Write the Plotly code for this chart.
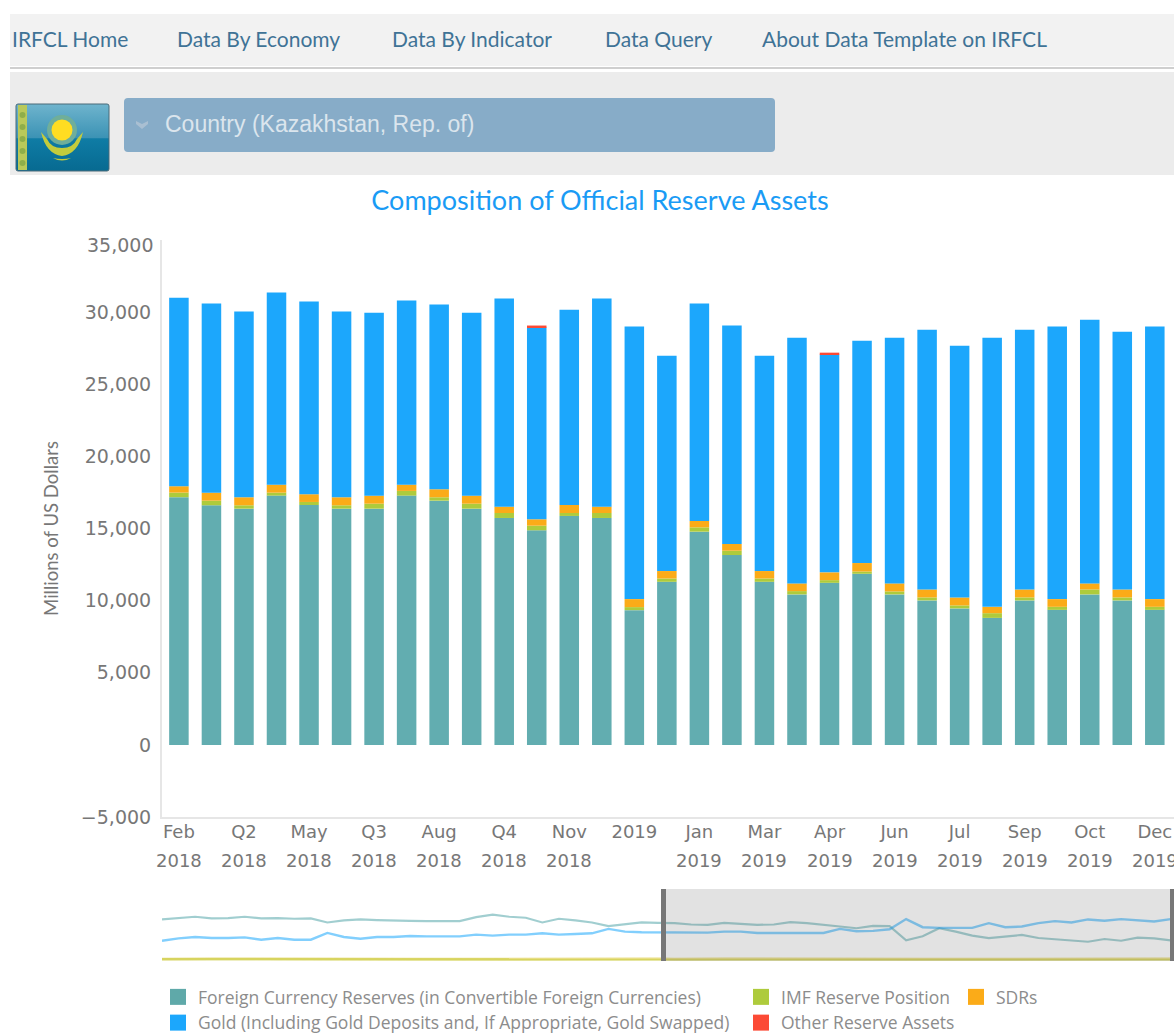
import base64
import plotly.graph_objects as go

W, H = 1174, 1035

periods = ["Feb 2018", "Mar 2018", "Q2 2018", "Apr 2018", "May 2018", "Jun 2018", "Q3 2018", "Jul 2018",
           "Aug 2018", "Sep 2018", "Q4 2018", "Oct 2018", "Nov 2018", "Dec 2018", "2019", "Q1 2019",
           "Jan 2019", "Feb 2019", "Mar 2019", "Q2 2019", "Apr 2019", "May 2019", "Jun 2019", "Q3 2019",
           "Jul 2019", "Aug 2019", "Sep 2019", "Q4 2019", "Oct 2019", "Nov 2019", "Dec 2019"]
tick_periods = ["Feb 2018", "Q2 2018", "May 2018", "Q3 2018", "Aug 2018", "Q4 2018", "Nov 2018", "2019",
                "Jan 2019", "Mar 2019", "Apr 2019", "Jun 2019", "Jul 2019", "Sep 2019", "Oct 2019", "Dec 2019"]
tick_row1 = ["Feb", "Q2", "May", "Q3", "Aug", "Q4", "Nov", "2019",
             "Jan", "Mar", "Apr", "Jun", "Jul", "Sep", "Oct", "Dec"]
tick_row2 = ["2018", "2018", "2018", "2018", "2018", "2018", "2018", "",
             "2019", "2019", "2019", "2019", "2019", "2019", "2019", "2019"]

foreign = [17170, 16610, 16375, 17280, 16630, 16375, 16375, 17280, 16930, 16375, 15730, 14875, 15870, 15730, 9340, 11305,
           14780, 13160, 11305, 10430, 11235, 11860, 10430, 10015, 9460, 8805, 10015, 9360, 10430, 10015, 9360]
imf = [320, 320, 235, 205, 210, 235, 345, 325, 235, 345, 345, 320, 205, 345, 210, 230,
       300, 300, 230, 230, 185, 160, 210, 210, 210, 325, 210, 210, 345, 210, 210]
sdr = [440, 555, 555, 555, 535, 555, 555, 435, 555, 555, 440, 445, 555, 440, 555, 515,
       440, 465, 515, 535, 540, 585, 555, 550, 550, 440, 550, 535, 420, 550, 535]
gold = [13075, 13105, 12870, 13315, 13355, 12870, 12690, 12760, 12800, 12690, 14425, 13300, 13540, 14425, 18890, 14930,
        15070, 15140, 14930, 17035, 15100, 15415, 17035, 18005, 17450, 18660, 18005, 18890, 18285, 17870, 18890]
other = [0, 0, 0, 0, 0, 0, 0, 0, 0, 0, 0, 130, 0, 0, 0, 0,
         0, 0, 0, 0, 130, 0, 0, 0, 0, 0, 0, 0, 0, 0, 0]

nav_foreign = [19044, 19838, 20314, 19520, 19679, 20314, 19520, 19679, 19361, 19520, 17616, 18568, 19044, 18727, 18727, 18409,
               18250, 18409, 18250, 20155, 21266, 20314, 19838, 17616, 19361, 18568, 17616, 15870, 16822, 17616, 17457,
               17298, 16664, 16505, 17457, 16822, 16505, 16664, 17774, 17298, 16664, 15711, 14918, 16029, 15870, 9205, 11109,
               14918, 13331, 11426, 10316, 10950, 11744, 10316, 9839, 9205, 8570, 9839, 9046, 10474, 10157, 9205]
nav_gold = [9046, 10157, 10792, 10316, 10316, 10633, 9522, 10316, 9522, 9522, 12696, 10792, 9998, 10792, 10792, 11268,
            11109, 11109, 11109, 11903, 11426, 11903, 11903, 12537, 11903, 12220, 12537, 14600, 13331, 13013, 13013,
            13172, 13013, 12855, 13331, 13331, 12696, 12696, 12696, 12696, 12696, 14600, 13490, 13648, 14442, 19203, 15394,
            15077, 15235, 15077, 17298, 15394, 15711, 17298, 18250, 17616, 19044, 18409, 19203, 18568, 18092, 19203]
nav_imf = [320, 320, 300, 280, 280, 300, 320, 320, 300, 320, 320, 320, 280, 320, 280, 300,
           320, 320, 300, 300, 280, 280, 280, 280, 300, 320, 300, 280, 300, 280, 280,
           320, 320, 235, 205, 210, 235, 345, 325, 235, 345, 345, 320, 205, 345, 210, 230,
           300, 300, 230, 230, 185, 160, 210, 210, 210, 325, 210, 210, 345, 210, 210]
nav_sdr = [440, 555, 555, 555, 535, 555, 555, 435, 555, 555, 440, 445, 555, 440, 555, 515,
           440, 465, 515, 535, 540, 585, 555, 550, 550, 440, 550, 535, 420, 550, 535,
           440, 555, 555, 555, 535, 555, 555, 435, 555, 555, 440, 445, 555, 440, 555, 515,
           440, 465, 515, 535, 540, 585, 555, 550, 550, 440, 550, 535, 420, 550, 535]

series_names = ["Foreign Currency Reserves (in Convertible Foreign Currencies)", "IMF Reserve Position", "SDRs",
                "Gold (Including Gold Deposits and, If Appropriate, Gold Swapped)", "Other Reserve Assets"]
series_colors = ["#62adb0", "#aecb3c", "#fbab18", "#1ca7fc", "#fc4a35"]
legend_colors = ["#5fa9a9", "#aecb3c", "#fbab18", "#1ca7fc", "#fc4a35"]
legend_slots = ["legend", "legend2", "legend3", "legend", "legend2"]
y_ticks = [-5000, 0, 5000, 10000, 15000, 20000, 25000, 30000]
y_ticktext = ["\u22125,000", "0", "5,000", "10,000", "15,000", "20,000", "25,000", "30,000"]
nav_labels = list(range(len(nav_foreign)))

nav_items = ["IRFCL Home", "Data By Economy", "Data By Indicator", "Data Query", "About Data Template on IRFCL"]
nav_starts = [10, 175, 390, 603, 760]


def px(x):
    return x / W


def py(y):
    return 1 - y / H


def rect(x0, y0, x1, y1, fill, layer="below"):
    return dict(type="rect", xref="paper", yref="paper", x0=px(x0), x1=px(x1), y0=py(y1), y1=py(y0),
                fillcolor=fill, line=dict(width=0), layer=layer)


fig = go.Figure()
for values, name, color in zip([foreign, imf, sdr, gold, other], series_names, series_colors):
    fig.add_trace(go.Bar(x=periods, y=values, name=name, marker=dict(color=color, line=dict(width=0)),
                         showlegend=False, width=0.6))

# legend keys (squares), laid out as three columns
for name, color, slot in zip(series_names, legend_colors, legend_slots):
    fig.add_trace(go.Scatter(x=[None], y=[None], mode="markers", name=name, legend=slot,
                             marker=dict(symbol="square", size=17, color=color), xaxis="x2", yaxis="y2"))

# navigator
nav_lines = [(nav_foreign, "rgba(98,173,176,0.6)", 2.2), (nav_gold, "rgba(28,167,252,0.55)", 2.4),
             (nav_sdr, "rgba(222,208,80,0.7)", 2.5), (nav_imf, "rgba(208,208,80,0.7)", 2.5)]
for values, color, width in nav_lines:
    fig.add_trace(go.Scatter(x=nav_labels, y=values, mode="lines", line=dict(color=color, width=width),
                             showlegend=False, xaxis="x2", yaxis="y2", hoverinfo="skip"))

shapes = [
    rect(10, 14, W, 66, "#f2f2f2"),
    rect(10, 67, W, 69, "#cfcfcf"),
    rect(10, 72, W, 175, "#ececec"),
    dict(type="path", xref="paper", yref="paper", layer="below", fillcolor="#87acc8", line=dict(width=0),
         path=(f"M {px(128)} {py(98)} L {px(771)} {py(98)} Q {px(775)} {py(98)} {px(775)} {py(102)} "
               f"L {px(775)} {py(148)} Q {px(775)} {py(152)} {px(771)} {py(152)} "
               f"L {px(128)} {py(152)} Q {px(124)} {py(152)} {px(124)} {py(148)} "
               f"L {px(124)} {py(102)} Q {px(124)} {py(98)} {px(128)} {py(98)} Z")),
    dict(type="path", xref="paper", yref="paper", layer="below", fillcolor="#a9bfd2", line=dict(width=0),
         path=(f"M {px(136)} {py(121)} L {px(142)} {py(124)} L {px(148)} {py(121)} L {px(148)} {py(124)} "
               f"L {px(142)} {py(129)} L {px(136)} {py(124)} Z")),
    # navigator selection
    rect(663, 889, 1172, 961, "rgba(100,100,100,0.19)", "above"),
    rect(661, 889, 666, 961, "#777777", "above"),
    rect(1170, 889, 1174, 961, "#777777", "above"),
]

flag_svg = """<svg xmlns='http://www.w3.org/2000/svg' width='95' height='70' viewBox='0 0 95 70'>
<defs><linearGradient id='g' x1='0' y1='0' x2='0' y2='1'>
<stop offset='0' stop-color='#6fb4cd'/><stop offset='0.5' stop-color='#3c93b5'/>
<stop offset='0.52' stop-color='#0f7ca5'/><stop offset='1' stop-color='#076a91'/></linearGradient></defs>
<rect x='1' y='1' width='93' height='67' rx='2' fill='url(#g)' stroke='#4b6b78' stroke-width='1'/>
<rect x='3' y='2' width='9' height='65' fill='#b9c95a'/>
<circle cx='7.5' cy='12' r='3' fill='#8fae4a'/><circle cx='7.5' cy='24' r='3' fill='#8fae4a'/>
<circle cx='7.5' cy='36' r='3' fill='#8fae4a'/><circle cx='7.5' cy='48' r='3' fill='#8fae4a'/>
<circle cx='7.5' cy='60' r='3' fill='#8fae4a'/>
<circle cx='47' cy='27' r='15' fill='#6fae9a'/>
<circle cx='47' cy='27' r='10.5' fill='#ffdd22'/>
<path d='M26 29 Q31 51 47 53 Q63 51 68 29 L62 36 Q58 45 47 45 Q36 45 32 36 Z' fill='#c3cc3c'/>
<path d='M38 55 Q47 60 56 55 Q47 57 38 55 Z' fill='#c3cc3c'/>
</svg>"""
flag_src = "data:image/svg+xml;base64," + base64.b64encode(flag_svg.encode()).decode()

annotations = []
for text, x0 in zip(nav_items, nav_starts):
    annotations.append(dict(text=text, x=px(x0), y=py(39), xref="paper", yref="paper", xanchor="left", yanchor="middle",
                            showarrow=False, font=dict(family="Lato", size=21, color="#3f7396")))
annotations.append(dict(text="Country (Kazakhstan, Rep. of)", x=px(163), y=py(124), xref="paper", yref="paper",
                        xanchor="left", yanchor="middle", showarrow=False,
                        font=dict(family="Liberation Sans", size=23, color="#dbe5ed")))
annotations.append(dict(text="35,000", x=px(155), y=py(245), xref="paper", yref="paper", xanchor="right",
                        yanchor="middle", showarrow=False, font=dict(family="DejaVu Sans", size=19, color="#777777")))
for cat, year in zip(tick_periods, tick_row2):
    if year:
        annotations.append(dict(text=year, x=cat, y=py(860), xref="x", yref="paper", xanchor="center", yanchor="middle",
                                showarrow=False, font=dict(family="DejaVu Sans", size=18, color="#777777")))

axis_font = dict(family="DejaVu Sans", size=18, color="#777777")
legend_common = dict(bgcolor="rgba(0,0,0,0)", borderwidth=0, orientation="v", yanchor="top", xanchor="left",
                     font=dict(family="Open Sans", size=17.5, color="#8c8c8c"), itemsizing="trace", itemclick=False,
                     itemdoubleclick=False, tracegroupgap=0)

fig.update_layout(
    width=W, height=H, autosize=False, margin=dict(l=0, r=0, t=0, b=0, autoexpand=False),
    paper_bgcolor="white", plot_bgcolor="white", barmode="relative", bargap=0.4, hovermode=False,
    title=dict(text="Composition of Official Reserve Assets", x=600 / W, y=py(201), xanchor="center", yanchor="middle",
               xref="paper", yref="paper", font=dict(family="Lato", size=27, color="#1a9bf5")),
    xaxis=dict(domain=[px(162), 1], anchor="y", type="category", categoryorder="array", categoryarray=periods,
               range=[-0.52, 30.59], tickmode="array", tickvals=tick_periods, ticktext=tick_row1, tickangle=0,
               showgrid=False, zeroline=False, showline=True, linecolor="#e6e6e6", linewidth=2, ticks="",
               tickfont=axis_font, ticklabelstandoff=-3),
    yaxis=dict(domain=[py(817), py(240)], anchor="x", range=[-5000, 35000], tickmode="array", tickvals=y_ticks,
               ticktext=y_ticktext, showgrid=False, zeroline=False, showline=True, linecolor="#e6e6e6", linewidth=2,
               ticks="", tickfont=dict(family="DejaVu Sans", size=19, color="#777777"), ticklabelstandoff=5,
               title=dict(text="Millions of US Dollars", standoff=17,
                          font=dict(family="Lato", size=18.5, color="#777777"))),
    xaxis2=dict(domain=[px(162), 1], anchor="y2", range=[0, 61.2], visible=False),
    yaxis2=dict(domain=[py(961), py(889)], anchor="x2", range=[-476, 33333], visible=False),
    legend=dict(x=px(158), y=py(979), **legend_common),
    legend2=dict(x=px(741), y=py(979), **legend_common),
    legend3=dict(x=px(956), y=py(979), **legend_common),
    shapes=shapes, annotations=annotations,
    images=[dict(source=flag_src, xref="paper", yref="paper", x=px(15), y=py(103), sizex=95 / W, sizey=70 / H,
                 xanchor="left", yanchor="top", sizing="stretch", layer="above")],
)

fig.write_html("out.html", config=dict(displayModeBar=False, responsive=False),
               post_script="document.body.style.margin='0';document.body.style.overflow='hidden';")
